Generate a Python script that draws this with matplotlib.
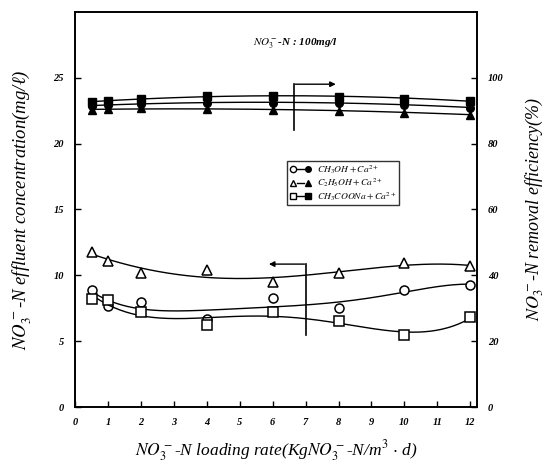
import numpy as np
import matplotlib
matplotlib.use("Agg")
import matplotlib.pyplot as plt
from matplotlib.lines import Line2D
from matplotlib.legend_handler import HandlerTuple

plt.rcParams['font.family'] = ['Liberation Serif', 'DejaVu Serif']
plt.rcParams['mathtext.fontset'] = 'stix'

# loading rate (KgNO3-N/m3.d)
loading = [0.5, 1, 2, 4, 6, 8, 10, 12]

# effluent concentration (mg/l), left axis
conc_methanol = [8.9, 7.7, 8.0, 6.7, 8.3, 7.5, 8.9, 9.3]
conc_ethanol = [11.8, 11.1, 10.2, 10.4, 9.5, 10.2, 10.9, 10.7]
conc_acetate = [8.2, 8.1, 7.2, 6.2, 7.2, 6.5, 5.5, 6.8]

# removal efficiency (%), right axis
eff_methanol = [91.5, 91.7, 92.1, 92.4, 92.4, 92.4, 91.8, 90.9]
eff_ethanol = [90.2, 90.4, 90.8, 90.4, 90.3, 90.0, 89.4, 88.8]
eff_acetate = [92.6, 93.0, 93.5, 94.5, 94.5, 94.2, 93.6, 93.0]

labels = [r'$CH_3OH+Ca^{2+}$', r'$C_2H_5OH+Ca^{2+}$', r'$CH_3COONa+Ca^{2+}$']
markers = ['o', '^', 's']

fig = plt.figure(figsize=(5.57, 4.69), dpi=100)
ax = fig.add_axes([0.135, 0.132, 0.721, 0.843])
ax2 = ax.twinx()

xs = np.linspace(0.5, 12, 200)
conc = [conc_methanol, conc_ethanol, conc_acetate]
effs = [eff_methanol, eff_ethanol, eff_acetate]
degs = [5, 4, 4]

for c, m, d in zip(conc, markers, degs):
    p = np.polyfit(loading, c, d)
    ax.plot(xs, np.polyval(p, xs), color='black', lw=1.0)
    ax.plot(loading, c, m, mfc='white', mec='black', ms=6.5, mew=1.1, ls='none')

for e, m in zip(effs, markers):
    p = np.polyfit(loading, e, 2)
    ax2.plot(xs, np.polyval(p, xs), color='black', lw=1.0)
    ax2.plot(loading, e, m, mfc='black', mec='black', ms=5.5, ls='none')

ax.set_xlim(0, 12.2)
ax.set_ylim(0, 30)
ax2.set_ylim(0, 120)
ax.set_xticks(range(0, 13))
ax.set_yticks([0, 5, 10, 15, 20, 25])
ax2.set_yticks([0, 20, 40, 60, 80, 100])

tickfont = dict(fontsize=7.5, fontweight='bold', fontstyle='italic')
ax.set_xticklabels([str(i) for i in range(13)], **tickfont)
ax.set_yticklabels(['0', '5', '10', '15', '20', '25'], **tickfont)
ax2.set_yticklabels(['0', '20', '40', '60', '80', '100'], **tickfont)
ax.tick_params(direction='in', length=4, width=1, pad=8)
ax2.tick_params(direction='in', length=4, width=1, pad=8)

for a in (ax, ax2):
    for s in a.spines.values():
        s.set_linewidth(1.2)

ax.set_xlabel(r'$NO_3^-$-N loading rate(Kg$NO_3^-$-N/m$^3$ $\cdot$ d)',
              fontsize=12.5, fontstyle='italic', labelpad=8)
ax.set_ylabel(r'$NO_3^-$-N effluent concentration(mg/ℓ)',
              fontsize=13.5, fontstyle='italic', labelpad=14)
ax2.set_ylabel(r'$NO_3^-$-N removal efficiency(%)',
               fontsize=13, fontstyle='italic', labelpad=14)

ax.text(6.7, 27.6, r'$NO_3^-$-N : 100mg/l', fontsize=8, fontweight='bold',
        fontstyle='italic', ha='center', va='center')

# bracket arrows showing which axis each group uses
ax.plot([6.66, 6.66], [24.5, 21.0], color='black', lw=1.2)
ax.annotate('', xy=(8.0, 24.5), xytext=(6.6, 24.5),
            arrowprops=dict(arrowstyle='-|>', color='black', lw=1.0, mutation_scale=8))
ax.plot([7.0, 7.0], [10.85, 5.5], color='black', lw=1.2)
ax.annotate('', xy=(5.8, 10.85), xytext=(7.05, 10.85),
            arrowprops=dict(arrowstyle='-|>', color='black', lw=1.0, mutation_scale=8))

handles = []
for m in markers:
    h_open = Line2D([], [], marker=m, mfc='white', mec='black', ms=4.5, ls='none')
    h_dash = Line2D([], [], color='black', lw=1.0)
    h_fill = Line2D([], [], marker=m, mfc='black', mec='black', ms=4, ls='none')
    handles.append((h_open, h_dash, h_fill))
leg = ax.legend(handles, labels, handler_map={tuple: HandlerTuple(ndivide=None, pad=0.1)},
                loc='upper left', bbox_to_anchor=(0.515, 0.635), fontsize=6.8,
                frameon=True, fancybox=False, edgecolor='black', handlelength=2.4,
                borderpad=0.25, labelspacing=0.1, handletextpad=0.6)
leg.get_frame().set_linewidth(1.0)

fig.savefig('out.png', dpi=100)
